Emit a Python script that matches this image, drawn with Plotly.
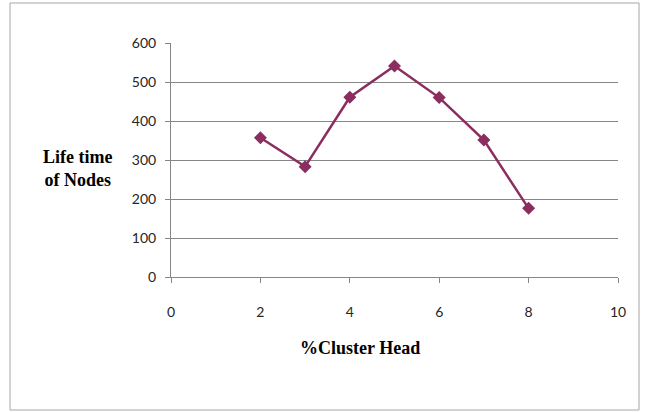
import plotly.graph_objects as go

cluster_head_pct = [2, 3, 4, 5, 6, 7, 8]
life_time = [357, 283, 461, 541, 460, 351, 176]
x_ticks = [0, 2, 4, 6, 8, 10]
y_ticks = [0, 100, 200, 300, 400, 500, 600]

W, H = 645, 412
L, R, T, B = 171, 27, 43, 135
pw, ph = W - L - R, H - T - B

def px_x(p):
    return (p - L) / pw

def px_y(p):
    return (H - B - p) / ph

line_color = "#8B2D5E"
grid_color = "#868686"

fig = go.Figure()
fig.add_trace(go.Scatter(
    x=cluster_head_pct, y=life_time, mode="lines+markers",
    line=dict(color=line_color, width=2.5),
    marker=dict(symbol="diamond", size=10, color=line_color),
    showlegend=False, hoverinfo="skip",
))

tick_font = dict(family="Lato, Open Sans, sans-serif", size=14, color="#262626")
title_font = dict(family="Liberation Serif, Times New Roman, serif", size=18, color="#000000")

fig.update_layout(
    width=W, height=H,
    margin=dict(l=L, r=R, t=T, b=B),
    paper_bgcolor="white", plot_bgcolor="white",
    xaxis=dict(
        range=[0, 10], tickvals=x_ticks, ticktext=[str(v) for v in x_ticks],
        showgrid=False, zeroline=False, showline=True, linecolor=grid_color, linewidth=1,
        ticks="outside", ticklen=5, tickcolor=grid_color, tickwidth=1,
        ticklabelstandoff=17, tickfont=tick_font, fixedrange=True,
    ),
    yaxis=dict(
        range=[0, 600], tickvals=y_ticks, ticktext=[str(v) for v in y_ticks],
        showgrid=True, gridcolor=grid_color, gridwidth=1, zeroline=False,
        showline=True, linecolor=grid_color, linewidth=1,
        ticks="outside", ticklen=5, tickcolor=grid_color, tickwidth=1,
        ticklabelstandoff=6, tickfont=tick_font, fixedrange=True,
    ),
    annotations=[
        dict(text="<b>Life time<br>of Nodes</b>", xref="paper", yref="paper",
             x=px_x(77), y=px_y(168), xanchor="center", yanchor="middle",
             showarrow=False, font=title_font, align="center"),
        dict(text="<b>%Cluster Head</b>", xref="paper", yref="paper",
             x=px_x(360), y=px_y(348), xanchor="center", yanchor="middle",
             showarrow=False, font=title_font),
    ],
    shapes=[
        dict(type="rect", xref="paper", yref="paper",
             x0=px_x(10), x1=px_x(639), y0=px_y(410), y1=px_y(3),
             line=dict(color="#A6A6A6", width=1), fillcolor="rgba(0,0,0,0)", layer="below"),
    ],
)

fig.write_html("out.html")
